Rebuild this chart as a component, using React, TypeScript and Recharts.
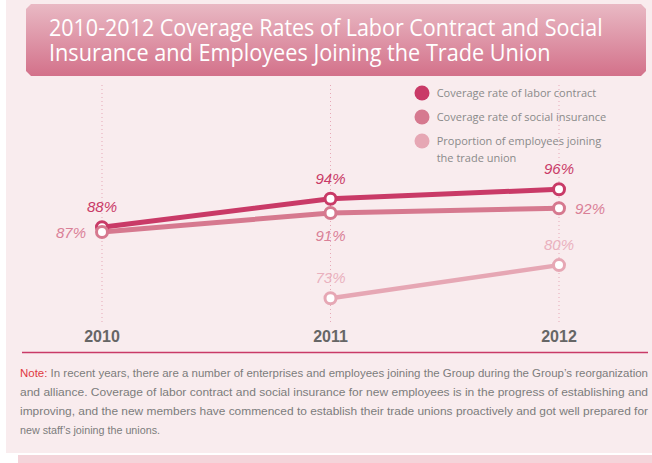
import { LineChart, Line, XAxis, YAxis, CartesianGrid, LabelList, Legend } from 'recharts'

const years = ['2010', '2011', '2012']
const laborContract = [88, 94, 96]
const socialInsurance = [87, 91, 92]
const tradeUnion = [null, 73, 80]

const seriesNames = [
  'Coverage rate of labor contract',
  'Coverage rate of social insurance',
  'Proportion of employees joining the trade union',
]

const titleLines = [
  '2010-2012 Coverage Rates of Labor Contract and Social',
  'Insurance and Employees Joining the Trade Union',
]

const noteLines = [
  'In recent years, there are a number of enterprises and employees joining the Group during the Group\u2019s reorganization',
  'and alliance. Coverage of labor contract and social insurance for new employees is in the progress of establishing and',
  'improving, and the new members have commenced to establish their trade unions proactively and got well prepared for',
  'new staff\u2019s joining the unions.',
]

const data = years.map((year, i) => ({
  year,
  labor: laborContract[i],
  social: socialInsurance[i],
  union: tradeUnion[i],
}))

const LABOR = '#c93a67'
const SOCIAL = '#d6798f'
const UNION = '#e6a7b4'

// where each point's label sits relative to the dot
const placed = (color: string, spots: string[]) => (props: any) => {
  const vb = props.viewBox || {}
  const x = vb.x ?? props.x
  const y = vb.y ?? props.y
  const { value, index } = props
  if (value == null || x == null) return null
  const spot = spots[index]
  let tx = x
  let ty = y - 15
  let anchor = 'middle'
  if (spot === 'left') { tx = x - 16; ty = y + 6; anchor = 'end' }
  if (spot === 'right') { tx = x + 16; ty = y + 6; anchor = 'start' }
  if (spot === 'below') { ty = y + 28 }
  return (
    <text x={tx} y={ty} textAnchor={anchor} fill={color} fontSize={15} fontStyle="italic"
      fontFamily="'Liberation Sans', Arial, sans-serif">
      {value}%
    </text>
  )
}

// wrap long legend names on word boundaries
const wrap = (s: string, max: number) => {
  const out: string[] = []
  let cur = ''
  for (const w of s.split(' ')) {
    if (cur && (cur + ' ' + w).length > max) { out.push(cur); cur = w } else cur = cur ? cur + ' ' + w : w
  }
  if (cur) out.push(cur)
  return out
}

const renderLegend = (props: any) => (
  <div>
    {(props.payload || []).map((entry: any, i: number) => (
      <div key={i} style={{ display: 'flex', alignItems: 'flex-start', marginBottom: 6.5 }}>
        <svg width={16} height={16} style={{ flexShrink: 0, marginTop: 1.4 }}>
          <circle cx={8} cy={8} r={7.5} fill={entry.color} />
        </svg>
        <div style={{ marginLeft: 7, fontSize: 11, lineHeight: '17px', color: '#8a8a8a', fontFamily: "'Open Sans', sans-serif" }}>
          {wrap(String(entry.value), 33).map((line, j) => (
            <div key={j} style={{ width: 'fit-content', whiteSpace: 'nowrap' }}>{line}</div>
          ))}
        </div>
      </div>
    ))}
  </div>
)

export default function App() {
  return (
    <div style={{ position: 'absolute', left: 0, top: 0, width: 652, height: 463, background: '#fff', overflow: 'hidden' }}>
      <div style={{ position: 'absolute', left: 6, top: 0, width: 646, height: 453, background: '#f9ecee' }} />
      <div style={{ position: 'absolute', left: 18, top: 455, width: 634, height: 8, background: '#f4d4da' }} />
      <svg style={{ position: 'absolute', left: 0, top: 0 }} width={652} height={463}>
        <defs>
          <linearGradient id="banner" x1="0" y1="0" x2="0" y2="1">
            <stop offset="0" stopColor="#e9b9c4" />
            <stop offset="1" stopColor="#d3718a" />
          </linearGradient>
        </defs>
        <polygon points="31,4 641,4 646,9 646,71 641,76 31,76 26,71 26,9" fill="url(#banner)" />
        {/* narrow title face: squeeze Open Sans horizontally */}
        <g transform="translate(49 0) scale(0.8 1)" fill="#fff" fontSize={24} fontFamily="'Open Sans', sans-serif">
          <text x={0} y={36} textLength={692} lengthAdjust="spacingAndGlyphs">{titleLines[0]}</text>
          <text x={0} y={61} textLength={627} lengthAdjust="spacingAndGlyphs">{titleLines[1]}</text>
        </g>
        <line x1={22} x2={648} y1={352.5} y2={352.5} stroke={LABOR} strokeWidth={1.6} />
        <g fontSize={11} fontFamily="'Liberation Sans', Arial, sans-serif" fill="#7c7c7c">
          <text x={20} y={377} textLength={628} lengthAdjust="spacingAndGlyphs">
            <tspan fill="#e0393f">Note:</tspan> {noteLines[0]}
          </text>
          <text x={20} y={396} textLength={628} lengthAdjust="spacingAndGlyphs">{noteLines[1]}</text>
          <text x={20} y={415} textLength={628} lengthAdjust="spacingAndGlyphs">{noteLines[2]}</text>
          <text x={20} y={434} textLength={140} lengthAdjust="spacingAndGlyphs">{noteLines[3]}</text>
        </g>
      </svg>
      <div style={{ position: 'absolute', left: 0, top: 0 }}>
        <LineChart width={652} height={463} data={data} margin={{ top: 85, right: 93, bottom: 111, left: 102 }}>
          <CartesianGrid horizontal={false} vertical stroke="#e6a9b7" strokeDasharray="1 3" />
          <XAxis dataKey="year" axisLine={false} tickLine={false} tickSize={0} tickMargin={9} height={30}
            tick={{ fill: '#666', fontSize: 16, fontWeight: 'bold', fontFamily: "'Liberation Sans', Arial, sans-serif" }} />
          <YAxis hide domain={[68, 118]} />
          <Legend layout="vertical" align="center" verticalAlign="middle" content={renderLegend}
            wrapperStyle={{ left: 413.7, top: 84, width: 240 }} />
          <Line dataKey="labor" name={seriesNames[0]} stroke={LABOR} strokeWidth={5} isAnimationActive={false}
            dot={{ r: 5.5, fill: '#fff', stroke: LABOR, strokeWidth: 3 }} activeDot={false}>
            <LabelList dataKey="labor" content={placed(LABOR, ['top', 'top', 'top'])} />
          </Line>
          <Line dataKey="social" name={seriesNames[1]} stroke={SOCIAL} strokeWidth={5} isAnimationActive={false}
            dot={{ r: 5.5, fill: '#fff', stroke: SOCIAL, strokeWidth: 3 }} activeDot={false}>
            <LabelList dataKey="social" content={placed('#d98097', ['left', 'below', 'right'])} />
          </Line>
          <Line dataKey="union" name={seriesNames[2]} stroke={UNION} strokeWidth={4.5} isAnimationActive={false}
            dot={{ r: 5.5, fill: '#fff', stroke: UNION, strokeWidth: 3 }} activeDot={false}>
            <LabelList dataKey="union" content={placed('#eab1be', ['top', 'top', 'top'])} />
          </Line>
        </LineChart>
      </div>
    </div>
  )
}
